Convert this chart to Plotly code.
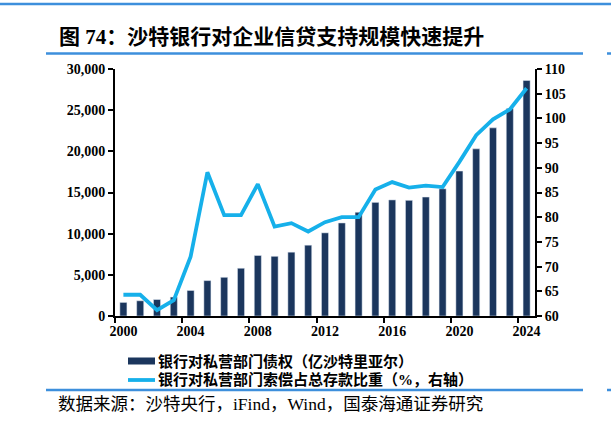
import plotly.graph_objects as go

years = list(range(2000, 2025))
claims = [1650, 1850, 2000, 2300, 3100, 4300, 4700, 5800, 7350, 7250, 7750, 8600,
          10100, 11300, 12600, 13800, 14100, 14050, 14450, 15450, 17600, 20300, 22850,
          25200, 28600]
ratio = [64.3, 64.3, 61.2, 63.2, 72.0, 89.1, 80.4, 80.4, 86.7, 78.1, 78.8, 77.1,
         79.0, 80.0, 80.0, 85.6, 87.1, 86.0, 86.4, 86.1, 91.2, 96.6, 99.8, 101.8, 106.1]
x_ticks = [2000, 2004, 2008, 2012, 2016, 2020, 2024]

title_text = "图 74：沙特银行对企业信贷支持规模快速提升"
name_bar = "银行对私营部门债权（亿沙特里亚尔）"
name_line = "银行对私营部门索偿占总存款比重（%，右轴）"
source_text = "数据来源：沙特央行，iFind，Wind，国泰海通证券研究"

W, H = 611, 423
L, R, T, B = 115, 76, 69, 107
BAR_COLOR = "#1b365d"
LINE_COLOR = "#16b0ea"
RULE_COLOR = "#3d8fdc"
FONT = "Liberation Serif, Noto Sans CJK SC"


def px(x):
    return (x - L) / (W - L - R)


def py(y):
    return (H - B - y) / (H - T - B)


fig = go.Figure()
fig.add_trace(go.Bar(x=years, y=claims, name=name_bar, marker_color=BAR_COLOR,
                     width=0.42, showlegend=False))
fig.add_trace(go.Scatter(x=years, y=ratio, name=name_line, mode="lines", yaxis="y2",
                         line=dict(color=LINE_COLOR, width=3.8), showlegend=False))

axis_font = dict(family="Liberation Serif", size=14, color="black", weight="bold")

fig.update_layout(
    width=W, height=H,
    margin=dict(l=L, r=R, t=T, b=B),
    paper_bgcolor="white", plot_bgcolor="white",
    xaxis=dict(range=[1999.5, 2024.5], tickvals=x_ticks, ticks="", showgrid=False,
               showline=True, linecolor="black", linewidth=2, tickfont=axis_font,
               ticklabelstandoff=1, automargin=False, zeroline=False,
               minor=dict(tickvals=[1999.5 + 4 * i for i in range(7)], ticks="outside",
                          ticklen=5, tickwidth=2, tickcolor="black")),
    yaxis=dict(range=[0, 30000], dtick=5000, tickformat=",", showgrid=False,
               showline=True, linecolor="black", linewidth=2, ticks="outside",
               ticklen=5, tickwidth=2, tickcolor="black", tickfont=axis_font,
               automargin=False, zeroline=False),
    yaxis2=dict(range=[60, 110], dtick=5, overlaying="y", side="right", showgrid=False,
                showline=True, linecolor="black", linewidth=2, ticks="outside",
                ticklen=5, tickwidth=2, tickcolor="black", tickfont=axis_font,
                automargin=False, zeroline=False),
)

shapes = [
    # top rule
    dict(type="line", x0=px(0), x1=px(W), y0=py(4), y1=py(4), line=dict(color=RULE_COLOR, width=2.5)),
    # title underline
    dict(type="line", x0=px(46), x1=px(583), y0=py(53.5), y1=py(53.5), line=dict(color=RULE_COLOR, width=2.5)),
    dict(type="line", x0=px(607), x1=px(W + 5), y0=py(53.5), y1=py(53.5), line=dict(color=RULE_COLOR, width=2.5)),
    # footer rule
    dict(type="line", x0=px(46), x1=px(583), y0=py(390), y1=py(390), line=dict(color=RULE_COLOR, width=2.5)),
    dict(type="line", x0=px(607), x1=px(W + 5), y0=py(390), y1=py(390), line=dict(color=RULE_COLOR, width=2.5)),
    # legend keys
    dict(type="rect", x0=px(128), x1=px(155), y0=py(357.5), y1=py(364.5),
         fillcolor=BAR_COLOR, line=dict(width=0)),
    dict(type="line", x0=px(128), x1=px(155), y0=py(380), y1=py(380),
         line=dict(color=LINE_COLOR, width=3.8)),
]
for s in shapes:
    s.update(xref="paper", yref="paper", layer="above")
fig.update_layout(shapes=shapes)

annotations = [
    dict(text=title_text, x=px(57), y=py(37), xanchor="left", yanchor="middle",
         font=dict(family=FONT, size=21, color="black", weight="bold")),
    dict(text=name_bar, x=px(156), y=py(361), xanchor="left", yanchor="middle",
         font=dict(family=FONT, size=15, color="black", weight="bold")),
    dict(text=name_line, x=px(156), y=py(379), xanchor="left", yanchor="middle",
         font=dict(family=FONT, size=15, color="black", weight="bold")),
    dict(text=source_text, x=px(56), y=py(404), xanchor="left", yanchor="middle",
         font=dict(family=FONT, size=17.5, color="black")),
]
for a in annotations:
    a.update(xref="paper", yref="paper", showarrow=False)
fig.update_layout(annotations=annotations)

# the page's default body margin would push the figure 8px off
fig.write_html(
    "out.html",
    config={"displayModeBar": False},
    post_script="document.body.style.margin='0';document.body.style.overflow='hidden';",
)
